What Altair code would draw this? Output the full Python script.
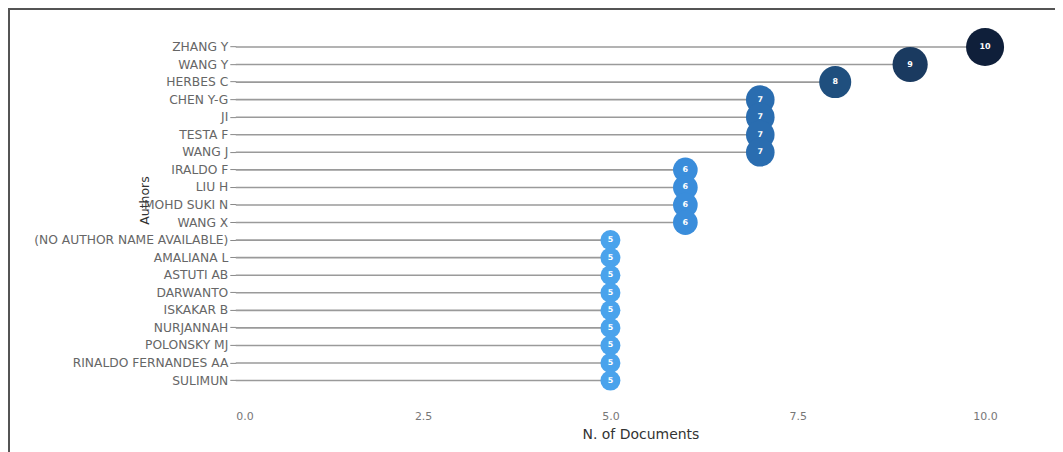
import altair as alt
import pandas as pd

authors = ["ZHANG Y", "WANG Y", "HERBES C", "CHEN Y-G", "JI", "TESTA F", "WANG J",
           "IRALDO F", "LIU H", "MOHD SUKI N", "WANG X",
           "(NO AUTHOR NAME AVAILABLE)", "AMALIANA L", "ASTUTI AB", "DARWANTO",
           "ISKAKAR B", "NURJANNAH", "POLONSKY MJ", "RINALDO FERNANDES AA", "SULIMUN"]
docs = [10, 9, 8, 7, 7, 7, 7, 6, 6, 6, 6, 5, 5, 5, 5, 5, 5, 5, 5, 5]

color_domain = [5, 6, 7, 8, 9, 10]
color_range = ["#4aa3ec", "#3a8ddb", "#2a6db0", "#1f4f7e", "#1a3a60", "#0f1f3a"]

df = pd.DataFrame({"Author": authors, "Docs": docs, "Zero": [0] * len(authors)})

W, H = 810, 351.5
FONT = "DejaVu Sans"

y_enc = alt.Y("Author:N", sort=authors, title="Authors",
              axis=alt.Axis(labelFontSize=12.3, labelColor="#666", labelFont=FONT, labelLimit=400,
                            tickColor="#888", tickSize=6, domain=False,
                            titleFontSize=12.5, titleFontWeight="normal", titleColor="#333",
                            titleFont=FONT, titleX=-84, titleY=162,
                            titleAngle=-90, titlePadding=0))
x_scale = alt.Scale(domain=[0, 10.8], nice=False)
x_enc = alt.X("Docs:Q", scale=x_scale, title="N. of Documents",
              axis=alt.Axis(values=[0, 2.5, 5, 7.5, 10], format=".1f", grid=False, domain=False,
                            ticks=False, labelPadding=21, labelFontSize=11, labelColor="#777",
                            labelFont=FONT,
                            titleFontSize=14, titleFontWeight="normal", titleColor="#333",
                            titleFont=FONT, titlePadding=6))

base = alt.Chart(df)

stems = base.mark_rule(color="#9a9a9a", strokeWidth=1.6).encode(
    y=y_enc, x=alt.X("Zero:Q", scale=x_scale, title="N. of Documents"), x2="Docs:Q")

dots = base.mark_circle(opacity=1).encode(
    y=y_enc, x=x_enc,
    size=alt.Size("Docs:Q", scale=alt.Scale(domain=[5, 10], range=[400, 1450]), legend=None),
    color=alt.Color("Docs:O", scale=alt.Scale(domain=color_domain, range=color_range), legend=None))

labels = base.mark_text(color="white", fontSize=8, fontWeight="bold", font=FONT).encode(
    y=y_enc, x=x_enc, text="Docs:Q")

frame_left = base.mark_rule(color="#555", strokeWidth=2).encode(
    x=alt.value(-227), y=alt.value(-31), y2=alt.value(H + 80))
frame_top = base.mark_rule(color="#555", strokeWidth=2).encode(
    x=alt.value(-228), x2=alt.value(W + 30), y=alt.value(-30))

chart = alt.layer(stems, dots, labels, frame_left, frame_top).properties(
    width=W, height=H,
    autosize=alt.AutoSizeParams(type="none"),
    padding={"left": 228, "top": 30, "right": 10, "bottom": 70},
).configure(background="white").configure_view(stroke=None)

chart.save("out.html", embed_options={"renderer": "svg", "actions": False})
